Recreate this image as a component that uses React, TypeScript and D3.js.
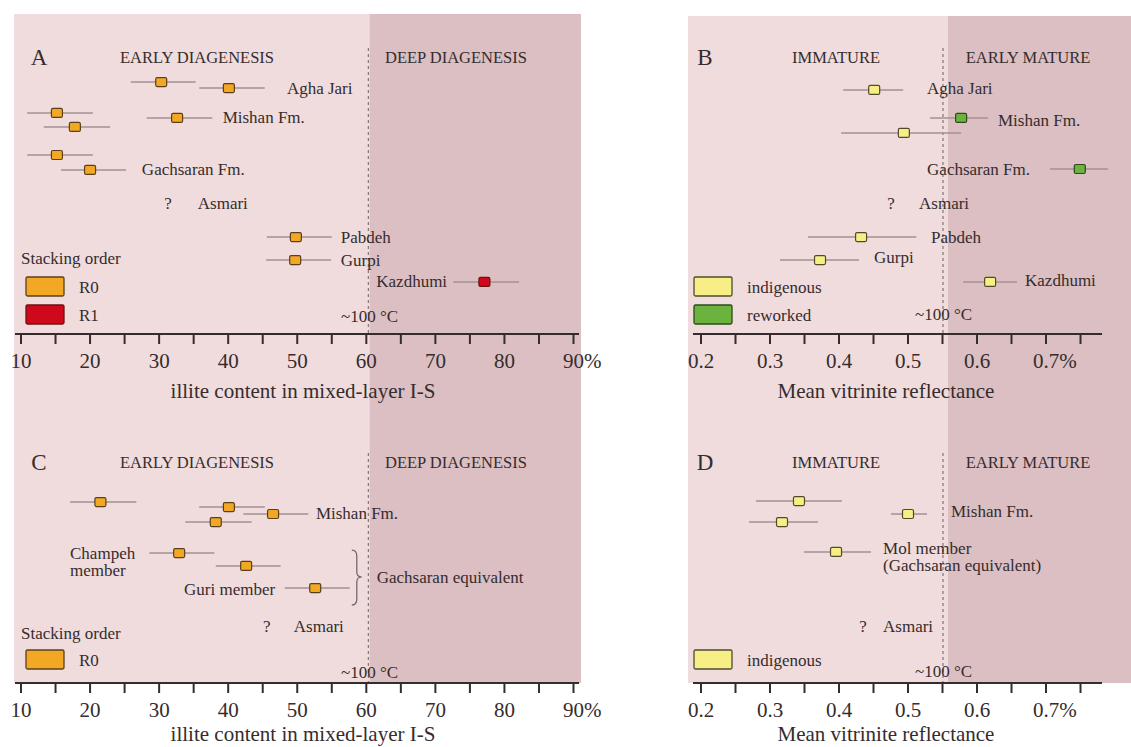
import React, { useEffect, useRef } from 'react';
import * as d3 from 'd3';

// ---- panel A: illite content, Fars / Lurestan samples ----
const aValues = [30.3, 40.1, 15.2, 17.8, 32.6, 15.2, 20.0, 49.8, 49.7, 77.1];
const aLow = [25.9, 35.8, 10.9, 13.3, 28.2, 10.9, 15.8, 45.6, 45.5, 72.6];
const aHigh = [35.3, 45.3, 20.4, 22.9, 37.7, 20.4, 25.2, 55.0, 54.9, 82.1];
const aRows = [0.96, 1.22, 2.3, 2.91, 2.52, 4.13, 4.78, 7.7, 8.7, 9.65];
const aType = ['R0', 'R0', 'R0', 'R0', 'R0', 'R0', 'R0', 'R0', 'R0', 'R1'];
const aLabelText = ['Agha Jari', 'Mishan Fm.', 'Gachsaran Fm.', '?', 'Asmari', 'Pabdeh', 'Gurpi', 'Kazdhumi'];
const aLabelX = [48.5, 39.2, 27.5, 31.3, 35.6, 56.3, 56.3, 71.7];
const aLabelRow = [1.22, 2.52, 4.78, 6.22, 6.22, 7.7, 8.7, 9.65];
const aLabelAnchor = ['start', 'start', 'start', 'middle', 'start', 'start', 'start', 'end'];

// ---- panel B: vitrinite reflectance ----
const bValues = [0.451, 0.577, 0.494, 0.749, 0.432, 0.3725, 0.619];
const bLow = [0.406, 0.532, 0.403, 0.706, 0.355, 0.3145, 0.58];
const bHigh = [0.493, 0.616, 0.577, 0.79, 0.512, 0.429, 0.658];
const bRows = [1.3, 2.52, 3.17, 4.74, 7.7, 8.7, 9.65];
const bType = ['indigenous', 'reworked', 'indigenous', 'reworked', 'indigenous', 'indigenous', 'indigenous'];
const bLabelText = ['Agha Jari', 'Mishan Fm.', 'Gachsaran Fm.', '?', 'Asmari', 'Pabdeh', 'Gurpi', 'Kazdhumi'];
const bLabelX = [0.5275, 0.6304, 0.6768, 0.4754, 0.516, 0.5333, 0.4507, 0.6696];
const bLabelRow = [1.22, 2.61, 4.78, 6.22, 6.22, 7.7, 8.6, 9.57];
const bLabelAnchor = ['start', 'start', 'end', 'middle', 'start', 'start', 'start', 'start'];

// ---- panel C: illite content, second area ----
const cValues = [21.5, 40.1, 46.5, 38.2, 32.9, 42.6, 52.6];
const cLow = [17.1, 35.8, 42.2, 33.8, 28.6, 38.2, 48.2];
const cHigh = [26.7, 45.3, 51.6, 43.4, 38.0, 47.6, 57.6];
const cRows = [1.61, 1.83, 2.13, 2.48, 3.83, 4.39, 5.35];
const cType = ['R0', 'R0', 'R0', 'R0', 'R0', 'R0', 'R0'];
const cLabelText = ['Mishan Fm.', 'Champeh', 'member', 'Guri member', 'Gachsaran equivalent', '?', 'Asmari'];
const cLabelX = [52.7, 17.1, 17.1, 46.8, 61.5, 45.6, 49.5];
const cLabelRow = [2.09, 3.83, 4.57, 5.43, 4.91, 7.04, 7.04];
const cLabelAnchor = ['start', 'start', 'start', 'end', 'start', 'middle', 'start'];

// ---- panel D: vitrinite reflectance, second area ----
const dValues = [0.342, 0.5, 0.3174, 0.3957];
const dLow = [0.2797, 0.4754, 0.2696, 0.3493];
const dHigh = [0.4043, 0.5275, 0.3696, 0.4464];
const dRows = [1.57, 2.13, 2.48, 3.78];
const dType = ['indigenous', 'indigenous', 'indigenous', 'indigenous'];
const dLabelText = ['Mishan Fm.', 'Mol member', '(Gachsaran equivalent)', '?', 'Asmari'];
const dLabelX = [0.5623, 0.4638, 0.4638, 0.4348, 0.4638];
const dLabelRow = [2.0, 3.65, 4.39, 7.0, 7.0];
const dLabelAnchor = ['start', 'start', 'start', 'middle', 'start'];

const illiteTicks = [10, 15, 20, 25, 30, 35, 40, 45, 50, 55, 60, 65, 70, 75, 80, 85, 90];
const illiteTickLabels = ['10', '', '20', '', '30', '', '40', '', '50', '', '60', '', '70', '', '80', '', '90%'];
const vitTicks = [0.2, 0.25, 0.3, 0.35, 0.4, 0.45, 0.5, 0.55, 0.6, 0.65, 0.7, 0.75];
const vitTickLabels = ['0.2', '', '0.3', '', '0.4', '', '0.5', '', '0.6', '', '0.7%', ''];

const colors = {
  R0: '#f3a824', R1: '#d0081c', indigenous: '#f7ee86', reworked: '#6bb33e',
};
const strokes = {
  R0: '#5a3f1c', R1: '#6e1212', indigenous: '#4d4b2c', reworked: '#2d4a1c',
};
const TEXT = '#352c2e';
const FONT = '"Liberation Serif", "DejaVu Serif", serif';

const App = () => {
  const ref = useRef(null);

  useEffect(() => {
    const svg = d3.select(ref.current);
    svg.selectAll('*').remove();

    const xIllite = d3.scaleLinear().domain([10, 90]).range([21, 573.5]);
    const xVit = d3.scaleLinear().domain([0.2, 0.7]).range([701, 1046]);

    // backgrounds (one column per x-variable)
    svg.append('rect').attr('x', 14).attr('y', 14).attr('width', 567).attr('height', 669).attr('fill', '#f0dcdc');
    svg.append('rect').attr('x', xIllite(60.5)).attr('y', 14).attr('width', 581 - xIllite(60.5)).attr('height', 669).attr('fill', '#dbbfc2');
    svg.append('rect').attr('x', 688).attr('y', 16).attr('width', 443).attr('height', 667).attr('fill', '#f0dcdc');
    svg.append('rect').attr('x', xVit(0.558)).attr('y', 16).attr('width', 1131 - xVit(0.558)).attr('height', 667).attr('fill', '#dbbfc2');

    const drawPanel = (p) => {
      const g = svg.append('g').attr('font-family', FONT).attr('fill', TEXT);
      const x = p.x;
      const y = d3.scaleLinear().domain([0, 10]).range([p.titleY + 3, p.titleY + 233]);

      // boundary (~100 °C)
      g.append('line').attr('x1', x(p.boundary)).attr('x2', x(p.boundary))
        .attr('y1', p.titleY - 9).attr('y2', p.axisY)
        .attr('stroke', '#8a7d80').attr('stroke-width', 1.3).attr('stroke-dasharray', '3,3');

      // letter and zone titles
      g.append('text').attr('x', p.letterX).attr('y', p.titleY).attr('text-anchor', 'middle')
        .attr('dominant-baseline', 'central').attr('font-size', 23).text(p.letter);
      g.selectAll('.zone').data(p.zones).join('text').attr('class', 'zone')
        .attr('x', d => d.x).attr('y', p.titleY).attr('text-anchor', 'middle')
        .attr('dominant-baseline', 'central').attr('font-size', 16.5).text(d => d.text);

      // error bars + markers
      const pts = p.values.map((v, i) => ({ v, lo: p.low[i], hi: p.high[i], row: p.rows[i], type: p.types[i] }));
      g.selectAll('.err').data(pts).join('line').attr('class', 'err')
        .attr('x1', d => x(d.lo)).attr('x2', d => x(d.hi))
        .attr('y1', d => y(d.row)).attr('y2', d => y(d.row))
        .attr('stroke', '#a39292').attr('stroke-width', 1.5);
      g.selectAll('.pt').data(pts).join('rect').attr('class', 'pt')
        .attr('x', d => x(d.v) - 5.5).attr('y', d => y(d.row) - 4.5)
        .attr('width', 11).attr('height', 9).attr('rx', 1.5)
        .attr('fill', d => colors[d.type]).attr('stroke', d => strokes[d.type]).attr('stroke-width', 1.2);

      // formation labels
      const labels = p.labelText.map((t, i) => ({ t, v: p.labelX[i], row: p.labelRow[i], anchor: p.labelAnchor[i] }));
      g.selectAll('.lbl').data(labels).join('text').attr('class', 'lbl')
        .attr('x', d => x(d.v)).attr('y', d => y(d.row)).attr('text-anchor', d => d.anchor)
        .attr('dominant-baseline', 'central').attr('font-size', 17).text(d => d.t);

      // curly brace
      if (p.brace) {
        const bx = x(p.brace.v);
        const y0 = y(p.brace.r0), y1 = y(p.brace.r1), ym = y(p.brace.tip);
        const path = `M${bx},${y0} Q${bx + 5},${y0} ${bx + 5},${y0 + 6} L${bx + 5},${ym - 5} Q${bx + 5},${ym} ${bx + 10},${ym} Q${bx + 5},${ym} ${bx + 5},${ym + 5} L${bx + 5},${y1 - 6} Q${bx + 5},${y1} ${bx},${y1}`;
        g.append('path').attr('d', path).attr('fill', 'none').attr('stroke', '#6b6062').attr('stroke-width', 1.2);
      }

      // temperature mark
      g.append('text').attr('x', p.tempX).attr('y', p.tempY).attr('dominant-baseline', 'central')
        .attr('font-size', 17).text('~100 °C');

      // legend
      if (p.legendTitle) {
        g.append('text').attr('x', 21).attr('y', p.legendTitleY).attr('dominant-baseline', 'central')
          .attr('font-size', 17).text(p.legendTitle);
      }
      p.legend.forEach((k, i) => {
        const ly = p.legendY + i * 28;
        g.append('rect').attr('x', p.legendX).attr('y', ly).attr('width', 38).attr('height', 19).attr('rx', 1.5)
          .attr('fill', colors[k.type]).attr('stroke', strokes[k.type]).attr('stroke-width', 1.3);
        g.append('text').attr('x', p.legendX + 53).attr('y', ly + 10).attr('dominant-baseline', 'central')
          .attr('font-size', 17).text(k.label);
      });

      // axis
      g.append('line').attr('x1', p.axisX0).attr('x2', p.axisX1).attr('y1', p.axisY).attr('y2', p.axisY)
        .attr('stroke', TEXT).attr('stroke-width', 2);
      g.selectAll('.tick').data(p.ticks).join('line').attr('class', 'tick')
        .attr('x1', d => x(d)).attr('x2', d => x(d)).attr('y1', p.axisY).attr('y2', p.axisY + 10)
        .attr('stroke', TEXT).attr('stroke-width', 2);
      p.ticks.forEach((t, i) => {
        const lab = p.tickLabels[i];
        if (!lab) return;
        const num = lab.replace('%', '');
        const tn = g.append('text').attr('x', x(t)).attr('y', p.axisY + 27).attr('text-anchor', 'middle')
          .attr('dominant-baseline', 'central').attr('font-size', 21).text(num);
        if (lab.endsWith('%')) {
          const w = tn.node().getComputedTextLength();
          g.append('text').attr('x', x(t) + w / 2).attr('y', p.axisY + 27)
            .attr('dominant-baseline', 'central').attr('font-size', 21).text('%');
        }
      });
      g.append('text').attr('x', p.axisTitleX).attr('y', p.axisY + p.axisTitleGap).attr('text-anchor', 'middle')
        .attr('dominant-baseline', 'central').attr('font-size', 21).text(p.axisTitle);
    };

    const illiteBase = {
      x: xIllite, ticks: illiteTicks, tickLabels: illiteTickLabels, axisX0: 15, axisX1: 579,
      axisTitle: 'illite content in mixed-layer I-S', axisTitleX: 303, letterX: 39, boundary: 60.3,
      zones: [{ text: 'EARLY DIAGENESIS', x: 197 }, { text: 'DEEP DIAGENESIS', x: 456 }],
      legendTitle: 'Stacking order', legendX: 26, tempX: 341,
    };
    const vitBase = {
      x: xVit, ticks: vitTicks, tickLabels: vitTickLabels, axisX0: 693, axisX1: 1102,
      axisTitle: 'Mean vitrinite reflectance', axisTitleX: 886, letterX: 705, boundary: 0.5507,
      zones: [{ text: 'IMMATURE', x: 836 }, { text: 'EARLY MATURE', x: 1028 }],
      legendTitle: null, legendX: 694, tempX: 915,
    };

    drawPanel({
      ...illiteBase, letter: 'A', titleY: 57, axisY: 334, axisTitleGap: 57, tempY: 316,
      values: aValues, low: aLow, high: aHigh, rows: aRows, types: aType,
      labelText: aLabelText, labelX: aLabelX, labelRow: aLabelRow, labelAnchor: aLabelAnchor,
      legendTitleY: 258, legendY: 277, legend: [{ type: 'R0', label: 'R0' }, { type: 'R1', label: 'R1' }],
    });
    drawPanel({
      ...vitBase, letter: 'B', titleY: 57, axisY: 334, axisTitleGap: 57, tempY: 314,
      values: bValues, low: bLow, high: bHigh, rows: bRows, types: bType,
      labelText: bLabelText, labelX: bLabelX, labelRow: bLabelRow, labelAnchor: bLabelAnchor,
      legendY: 277, legend: [{ type: 'indigenous', label: 'indigenous' }, { type: 'reworked', label: 'reworked' }],
    });
    drawPanel({
      ...illiteBase, letter: 'C', titleY: 462, axisY: 683, axisTitleGap: 51, tempY: 672,
      values: cValues, low: cLow, high: cHigh, rows: cRows, types: cType,
      labelText: cLabelText, labelX: cLabelX, labelRow: cLabelRow, labelAnchor: cLabelAnchor,
      brace: { v: 57.9, r0: 3.7, r1: 6.09, tip: 4.87 },
      legendTitleY: 633, legendY: 650, legend: [{ type: 'R0', label: 'R0' }],
    });
    drawPanel({
      ...vitBase, letter: 'D', titleY: 462, axisY: 683, axisTitleGap: 51, tempY: 671,
      values: dValues, low: dLow, high: dHigh, rows: dRows, types: dType,
      labelText: dLabelText, labelX: dLabelX, labelRow: dLabelRow, labelAnchor: dLabelAnchor,
      legendY: 650, legend: [{ type: 'indigenous', label: 'indigenous' }],
    });
  }, []);

  return (
    <svg ref={ref} width={1131} height={747}
      style={{ position: 'absolute', left: 0, top: 0, background: '#fff' }} />
  );
};

export default App;
